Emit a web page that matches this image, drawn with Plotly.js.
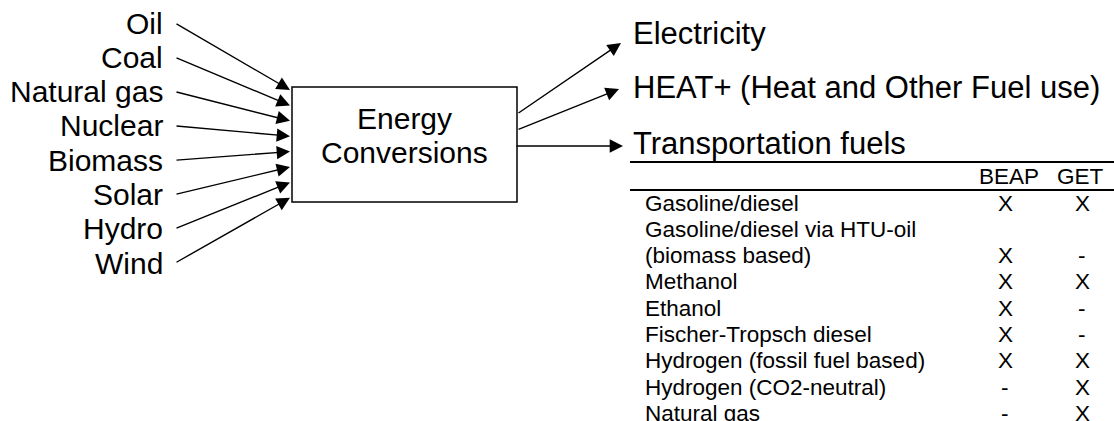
<!DOCTYPE html>
<html><head><meta charset="utf-8">
<script src="https://cdn.plot.ly/plotly-3.0.1.min.js"></script>
<style>html,body{margin:0;padding:0;background:#fff}</style>
</head><body><div id="chart" style="width:1114px;height:421px"></div>
<script>
// ---- data ----
const sources = ["Oil","Coal","Natural gas","Nuclear","Biomass","Solar","Hydro","Wind"];
const centerLabel = ["Energy","Conversions"];
const outputs = ["Electricity","HEAT+ (Heat and Other Fuel use)","Transportation fuels"];
const tableHeader = ["BEAP","GET"];
const fuels = ["Gasoline/diesel","Gasoline/diesel via HTU-oil","(biomass based)","Methanol","Ethanol",
  "Fischer-Tropsch diesel","Hydrogen (fossil fuel based)","Hydrogen (CO2-neutral)","Natural gas"];
const beap = ["X","","X","X","X","X","X","-","-"];
const get  = ["X","","-","X","-","-","X","X","X"];

// ---- layout constants ----
const FONT = "'Liberation Sans', Arial, sans-serif";
const W = 1114, H = 421;
const box = {x0:292, x1:517, y0:87, y1:202};
const srcY0 = 23, srcDY = 34.3, srcX = 165, tailX = 175;
const tipY0 = 90, tipDY = 15.4, tipX = 290;
const outY = [33, 87, 143], outX = 631;
const outTails = [[517,114],[517,130],[515,146]];
const outTips = [[621,43],[619,89],[623,146]];
const rowY0 = 203, rowDY = 26.3, rowX = 643, col1 = 1005, col2 = 1082;
const hdrX = [1009, 1080];

const ann = [];
const shapes = [];
const AS = 1.9;
sources.forEach((s,i)=>{
  const y = srcY0 + i*srcDY;
  ann.push({x:srcX, y:y, text:s, showarrow:false, xanchor:'right', yanchor:'middle',
    font:{family:FONT,size:30,color:'#000'}});
  ann.push({x:tipX, y:tipY0+i*tipDY, ax:tailX, ay:y, axref:'x', ayref:'y', text:'',
    showarrow:true, arrowhead:2, arrowsize:AS, arrowwidth:1.4, arrowcolor:'#000'});
});
centerLabel.forEach((t,i)=>{
  ann.push({x:(box.x0+box.x1)/2, y:118+i*34, text:t, showarrow:false, xanchor:'center', yanchor:'middle',
    font:{family:FONT,size:30,color:'#000'}});
});
shapes.push({type:'rect', x0:box.x0, x1:box.x1, y0:box.y0, y1:box.y1, line:{color:'#000',width:1.5}});
outputs.forEach((t,i)=>{
  ann.push({x:outX, y:outY[i], text:t, showarrow:false, xanchor:'left', yanchor:'middle',
    font:{family:FONT,size:31,color:'#000'}});
  ann.push({x:outTips[i][0], y:outTips[i][1], ax:outTails[i][0], ay:outTails[i][1], axref:'x', ayref:'y', text:'',
    showarrow:true, arrowhead:2, arrowsize:AS, arrowwidth:1.4, arrowcolor:'#000'});
});
shapes.push({type:'line', x0:630, x1:W, y0:162, y1:162, line:{color:'#000',width:2}});
shapes.push({type:'line', x0:630, x1:W, y0:190, y1:190, line:{color:'#000',width:2}});
tableHeader.forEach((t,i)=>{
  ann.push({x:hdrX[i], y:176, text:t, showarrow:false, xanchor:'center', yanchor:'middle',
    font:{family:FONT,size:22.5,color:'#000'}});
});
fuels.forEach((f,i)=>{
  const y = rowY0 + i*rowDY;
  ann.push({x:rowX, y:y, text:f, showarrow:false, xanchor:'left', yanchor:'middle',
    font:{family:FONT,size:22.5,color:'#000'}});
  if (beap[i]) ann.push({x:col1, y:y, text:beap[i], showarrow:false, xanchor:'center', yanchor:'middle',
    font:{family:FONT,size:22.5,color:'#000'}});
  if (get[i]) ann.push({x:col2, y:y, text:get[i], showarrow:false, xanchor:'center', yanchor:'middle',
    font:{family:FONT,size:22.5,color:'#000'}});
});

const layout = {
  width:W, height:H, margin:{l:0,r:0,t:0,b:0},
  paper_bgcolor:'#fff', plot_bgcolor:'#fff', showlegend:false,
  xaxis:{range:[0,W], visible:false, fixedrange:true},
  yaxis:{range:[H,0], visible:false, fixedrange:true},
  annotations:ann, shapes:shapes
};
Plotly.newPlot('chart', [{x:[0],y:[0],mode:'markers',marker:{opacity:0},hoverinfo:'skip'}], layout, {staticPlot:true, displayModeBar:false});
</script></body></html>
